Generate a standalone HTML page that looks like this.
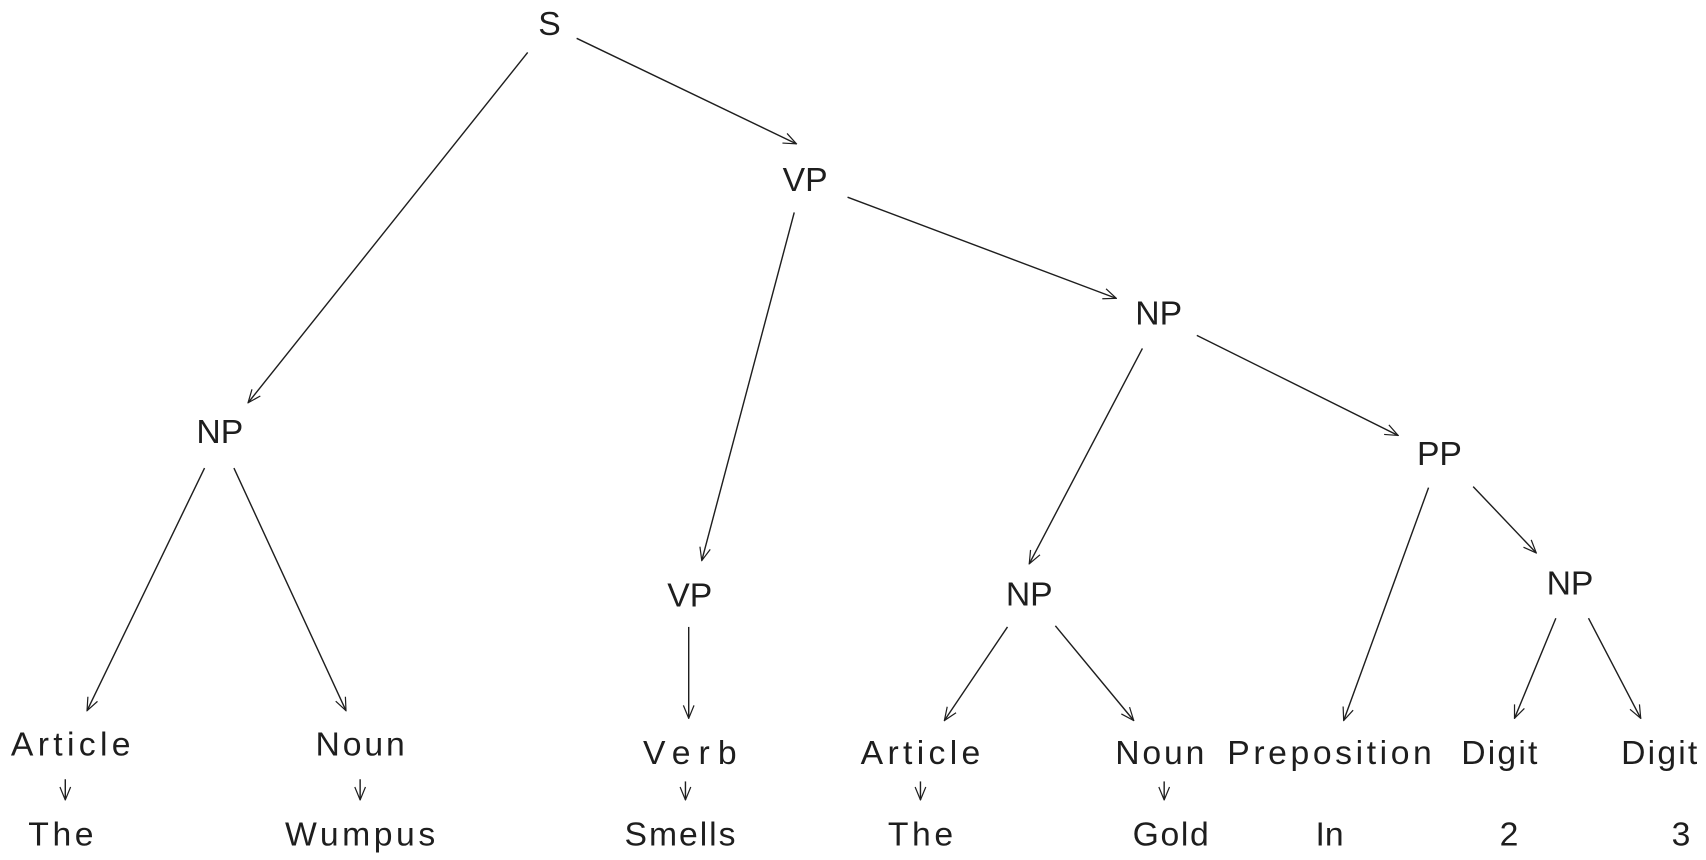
<!DOCTYPE html>
<html><head><meta charset="utf-8"><style>
html,body{margin:0;padding:0;background:#fff;}
svg{display:block;}
text{font-family:"Liberation Sans",sans-serif;font-size:31px;fill:#1e1e1e;text-anchor:middle;dominant-baseline:central;}
line{stroke:#1e1e1e;stroke-width:1.3;fill:none;}
</style></head><body>
<svg width="1706" height="860" viewBox="0 0 1568 790" xmlns="http://www.w3.org/2000/svg">
<defs>
<marker id="a" viewBox="0 0 20 20" refX="19" refY="10" markerWidth="14" markerHeight="14" markerUnits="userSpaceOnUse" orient="auto">
<path d="M2,3 L19,10 L2,17" fill="none" stroke="#1e1e1e" stroke-width="1.6"/>
</marker>
</defs>
<g marker-end="url(#a)">
<line x1="485" y1="48" x2="228" y2="370"/>
<line x1="530" y1="35" x2="732" y2="132"/>
<line x1="730" y1="195" x2="645" y2="515"/>
<line x1="779" y1="181" x2="1026" y2="274"/>
<line x1="1050" y1="320" x2="946" y2="518"/>
<line x1="1100" y1="308" x2="1285" y2="400"/>
<line x1="188" y1="430" x2="80" y2="653"/>
<line x1="215" y1="430" x2="318" y2="653"/>
<line x1="1313" y1="448" x2="1235" y2="662"/>
<line x1="1354" y1="447" x2="1412" y2="508"/>
<line x1="633" y1="576" x2="633" y2="660"/>
<line x1="926" y1="576" x2="868" y2="662"/>
<line x1="970" y1="575" x2="1042" y2="662"/>
<line x1="1430" y1="568" x2="1392" y2="660"/>
<line x1="1460" y1="568" x2="1508" y2="660"/>
<line x1="60" y1="716" x2="60" y2="735"/>
<line x1="331" y1="716" x2="331" y2="735"/>
<line x1="630" y1="718" x2="630" y2="735"/>
<line x1="846" y1="718" x2="846" y2="735"/>
<line x1="1070" y1="718" x2="1070" y2="735"/>
</g>
<text x="505" y="22">S</text>
<text x="740" y="165">VP</text>
<text x="1065" y="288">NP</text>
<text x="202" y="397">NP</text>
<text x="1323" y="417">PP</text>
<text x="634" y="547">VP</text>
<text x="946" y="546">NP</text>
<text x="1443" y="536">NP</text>
<text x="65" y="684" textLength="110">Article</text>
<text x="331" y="684" textLength="82">Noun</text>
<text x="634" y="692" textLength="86">Verb</text>
<text x="846" y="692" textLength="110">Article</text>
<text x="1066" y="692" textLength="82">Noun</text>
<text x="1222" y="692" textLength="188">Preposition</text>
<text x="1378" y="692" textLength="70">Digit</text>
<text x="1525" y="692" textLength="70">Digit</text>
<text x="56" y="767" textLength="60">The</text>
<text x="331" y="767" textLength="138">Wumpus</text>
<text x="625" y="767" textLength="102">Smells</text>
<text x="846" y="767" textLength="60">The</text>
<text x="1076" y="767" textLength="70">Gold</text>
<text x="1222" y="767">In</text>
<text x="1387" y="767">2</text>
<text x="1545" y="767">3</text>
</svg>
</body></html>
